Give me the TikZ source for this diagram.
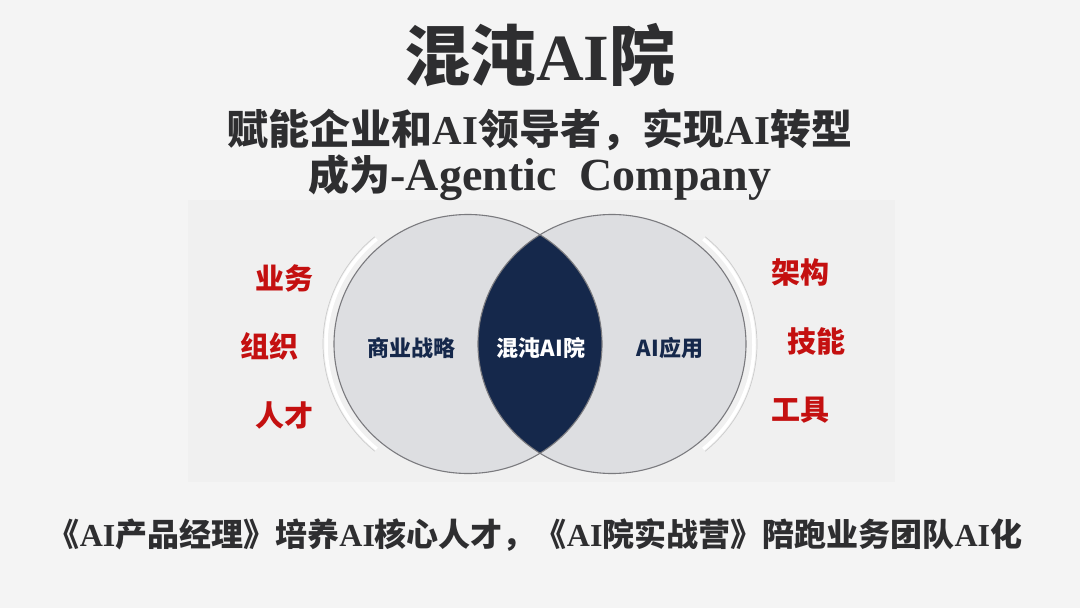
\documentclass[tikz,border=0pt]{standalone}
\usepackage{fontspec}
\usepackage{xcolor}
\usepackage{tikz}
\usetikzlibrary{positioning, calc}
\setmainfont{Liberation Serif}
\newfontfamily\cjk{Noto Sans CJK SC}
\newcommand{\hz}[1]{{\cjk #1}}
\definecolor{bgcol}{HTML}{F4F4F4}
\definecolor{panelcol}{HTML}{F0F0F0}
\definecolor{inkcol}{HTML}{2E2E30}
\definecolor{navy}{HTML}{15284B}
\definecolor{labelred}{HTML}{C41010}
\definecolor{circfill}{HTML}{DDDEE1}
\definecolor{circline}{HTML}{7A7A7E}

\begin{document}
\begin{tikzpicture}[x=1pt, y=-1pt,
    redlabel/.style={text=labelred, font=\cjk\bfseries\fontsize{29}{29}\selectfont},
    innerlabel/.style={text=navy, font=\cjk\bfseries\fontsize{22}{22}\selectfont}]
    % 背景
    \useasboundingbox (0,0) rectangle (1080,608);
    \fill[bgcol] (0,0) rectangle (1080,608);
    \fill[panelcol] (188,200) rectangle (895,482);

    % 标题
    \node[text=inkcol, font=\bfseries\fontsize{66}{66}\selectfont] (title) at (540,55) {\hz{混沌}AI\hz{院}};
    \node[text=inkcol, font=\bfseries\fontsize{41}{41}\selectfont] (sub1) at (540,130) {\hz{赋能企业和}AI\hz{领导者，实现}AI\hz{转型}};
    \node[text=inkcol, font=\bfseries\fontsize{41}{41}\selectfont] (sub2) at (540,178)
        {\hz{成为}{\fontsize{46}{46}\selectfont -Agentic\ \ Company}};

    % 两个椭圆
    \fill[circfill] (468,344) ellipse [x radius=134, y radius=129.5];
    \fill[circfill] (612,344) ellipse [x radius=134, y radius=129.5];
    \begin{scope}
        \clip (468,344) ellipse [x radius=134, y radius=129.5];
        \fill[navy] (612,344) ellipse [x radius=134, y radius=129.5];
    \end{scope}
    \draw[circline, line width=1.1pt] (468,344) ellipse [x radius=134, y radius=129.5];
    \draw[circline, line width=1.1pt] (612,344) ellipse [x radius=134, y radius=129.5];

    % 外侧弧线
    \draw[white, line width=3.5pt] (468,344) ++(130:142 and 137) arc[start angle=130, end angle=230, x radius=142, y radius=137];
    \draw[white, line width=3.5pt] (612,344) ++(-50:142 and 137) arc[start angle=-50, end angle=50, x radius=142, y radius=137];
    \draw[gray!40, line width=0.7pt] (468,344) ++(130:145 and 140) arc[start angle=130, end angle=230, x radius=145, y radius=140];
    \draw[gray!40, line width=0.7pt] (612,344) ++(-50:145 and 140) arc[start angle=-50, end angle=50, x radius=145, y radius=140];

    % 圆内文字
    \node[innerlabel] (strategy) at (411,348) {商业战略};
    \node[innerlabel, text=white] (core) at (541,348) {混沌AI院};
    \node[innerlabel] (app) at (670,348) {AI应用};

    % 左右标注
    \node[redlabel] (biz) at (284,278) {业务};
    \node[redlabel] (org) at (269,346) {组织};
    \node[redlabel] (talent) at (284,415) {人才};
    \node[redlabel] (arch) at (800,273) {架构};
    \node[redlabel] (skill) at (816,341) {技能};
    \node[redlabel] (tool) at (800,410) {工具};

    % 底部说明
    \node[text=inkcol, font=\bfseries\fontsize{32}{32}\selectfont] (bottom) at (535,535)
        {\hz{《}AI\hz{产品经理》培养}AI\hz{核心人才，《}AI\hz{院实战营》陪跑业务团队}AI\hz{化}};
\end{tikzpicture}
\end{document}
